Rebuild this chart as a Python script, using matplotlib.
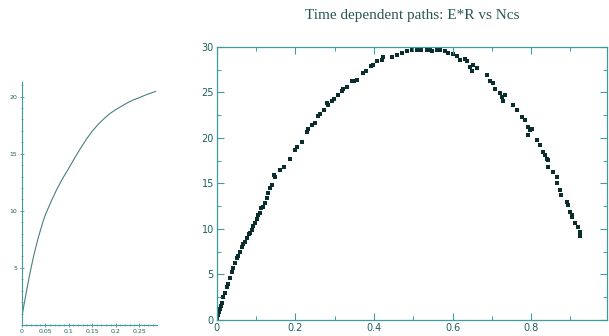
import matplotlib
matplotlib.use("Agg")
import matplotlib.pyplot as plt
from matplotlib.ticker import MultipleLocator

# left panel: smooth curve
left_x = [0.0, 0.0025, 0.005, 0.0075, 0.01, 0.015, 0.02, 0.025, 0.03, 0.035,
          0.04, 0.045, 0.05, 0.0625, 0.075, 0.0875, 0.1, 0.1125, 0.125, 0.1375,
          0.15, 0.1625, 0.175, 0.1875, 0.2, 0.2125, 0.225, 0.2375, 0.25, 0.2675,
          0.285]
left_y = [0.6, 1.2, 1.8, 2.35, 2.9, 4.0, 5.0, 5.95, 6.8, 7.6,
          8.3, 9.0, 9.6, 10.8, 11.9, 12.85, 13.7, 14.6, 15.45, 16.25,
          16.95, 17.55, 18.05, 18.5, 18.85, 19.15, 19.45, 19.7, 19.9, 20.2,
          20.45]

# right panel: scattered path points (Ncs, E*R)
ncs = [0.0, 0.002, 0.004, 0.006, 0.008, 0.010, 0.013, 0.017, 0.021, 0.025,
       0.029, 0.033, 0.038, 0.042, 0.047, 0.051, 0.055, 0.059, 0.064, 0.068,
       0.072, 0.077, 0.081, 0.085, 0.089, 0.093, 0.097, 0.102, 0.106, 0.110,
       0.114, 0.117, 0.122, 0.127, 0.131, 0.136, 0.140, 0.146, 0.149, 0.161,
       0.170, 0.186, 0.199, 0.205, 0.216, 0.229, 0.233, 0.242, 0.250, 0.258,
       0.264, 0.273, 0.280, 0.284, 0.293, 0.298, 0.309, 0.318, 0.322, 0.331,
       0.343, 0.349, 0.356, 0.373, 0.380, 0.392, 0.398, 0.407, 0.420, 0.422,
       0.445, 0.458, 0.471, 0.483, 0.496, 0.509, 0.516, 0.521, 0.534, 0.543,
       0.547, 0.560, 0.568, 0.581, 0.589, 0.602, 0.611, 0.619, 0.632, 0.636,
       0.644, 0.649, 0.653, 0.661, 0.687, 0.695, 0.704, 0.708, 0.720, 0.725,
       0.733, 0.729, 0.755, 0.763, 0.776, 0.784, 0.793, 0.797, 0.801, 0.793,
       0.814, 0.822, 0.831, 0.835, 0.839, 0.844, 0.844, 0.856, 0.865, 0.865,
       0.873, 0.875, 0.890, 0.894, 0.899, 0.903, 0.903, 0.911, 0.920, 0.924,
       0.924]
er = [0.0, 0.3, 0.6, 0.9, 1.2, 1.5, 1.9, 2.5, 3.0, 3.6,
      4.0, 4.6, 5.3, 5.7, 6.3, 6.8, 7.0, 7.5, 8.0, 8.3,
      8.6, 9.0, 9.4, 9.6, 9.9, 10.3, 10.6, 11.1, 11.5, 11.7,
      12.3, 12.4, 12.9, 13.4, 13.9, 14.5, 14.8, 15.9, 15.7, 16.5,
      16.8, 17.7, 18.7, 19.0, 19.6, 20.7, 21.0, 21.4, 21.6, 22.4,
      22.6, 23.1, 23.8, 23.6, 24.1, 24.3, 24.7, 25.2, 25.4, 25.6,
      26.2, 26.3, 26.4, 27.1, 27.4, 27.9, 28.0, 28.4, 28.5, 28.9,
      28.9, 29.1, 29.3, 29.5, 29.6, 29.7, 29.8, 29.6, 29.6, 29.7,
      29.5, 29.6, 29.6, 29.5, 29.3, 29.2, 29.0, 28.5, 28.7, 28.4,
      27.8, 27.4, 28.0, 27.7, 26.9, 26.3, 26.0, 25.4, 24.9, 24.5,
      24.7, 24.0, 23.6, 23.1, 22.3, 22.0, 21.2, 20.9, 21.0, 20.3,
      19.8, 19.2, 18.5, 18.1, 17.7, 17.6, 16.8, 16.3, 15.7, 15.0,
      14.3, 13.7, 13.0, 12.6, 11.9, 11.5, 11.3, 10.7, 10.2, 9.7,
      9.2]

axis_col = "#3f9c9c"
text_col = "#1e5f5f"

fig = plt.figure(figsize=(6.09, 3.36), dpi=100)

# ---- left small plot
ax1 = fig.add_axes([0.0356, 0.0327, 0.222, 0.724])
ax1.plot(left_x, left_y, color="#4a7f80", lw=0.8)
ax1.set_xlim(0, 0.288)
ax1.set_ylim(0, 21.3)
for s in ["top", "right"]:
    ax1.spines[s].set_visible(False)
for s in ["left", "bottom"]:
    ax1.spines[s].set_color(axis_col)
    ax1.spines[s].set_linewidth(0.8)
ax1.xaxis.set_minor_locator(MultipleLocator(0.01))
ax1.yaxis.set_minor_locator(MultipleLocator(1))
ax1.set_xticks([0, 0.05, 0.1, 0.15, 0.2, 0.25])
ax1.set_xticklabels(["0", "0.05", "0.1", "0.15", "0.2", "0.25"])
ax1.set_yticks([5, 10, 15, 20])
ax1.set_yticklabels(["5", "10", "15", "20"])
ax1.tick_params(which="both", direction="inout", colors=axis_col,
                labelcolor=text_col, labelsize=4.5, pad=1.5)
ax1.tick_params(which="major", length=3, width=0.6)
ax1.tick_params(which="minor", length=1.5, width=0.5)

# ---- right main plot
ax2 = fig.add_axes([0.3558, 0.0476, 0.641, 0.813])
ax2.scatter(ncs, er, s=6, marker="s", color="#0a2e2e", linewidths=0)
ax2.set_xlim(0, 0.993)
ax2.set_ylim(0, 30)
for s in ax2.spines.values():
    s.set_color(axis_col)
    s.set_linewidth(0.9)
ax2.xaxis.set_minor_locator(MultipleLocator(0.1))
ax2.yaxis.set_minor_locator(MultipleLocator(2.5))
ax2.set_xticks([0, 0.2, 0.4, 0.6, 0.8])
ax2.set_xticklabels(["0", "0.2", "0.4", "0.6", "0.8"])
ax2.set_yticks([0, 5, 10, 15, 20, 25, 30])
ax2.set_yticklabels(["0", "5", "10", "15", "20", "25", "30"])
ax2.tick_params(which="both", direction="in", top=True, right=True,
                colors=axis_col, labelcolor=text_col, labelsize=7, pad=2)
ax2.tick_params(which="major", length=5, width=0.8)
ax2.tick_params(which="minor", length=3, width=0.7)

fig.text(0.677, 0.955, "Time dependent paths: E*R vs Ncs", ha="center",
         va="center", fontsize=11, color="#2b5656", family="Liberation Serif")

fig.savefig("out.png", dpi=100)
